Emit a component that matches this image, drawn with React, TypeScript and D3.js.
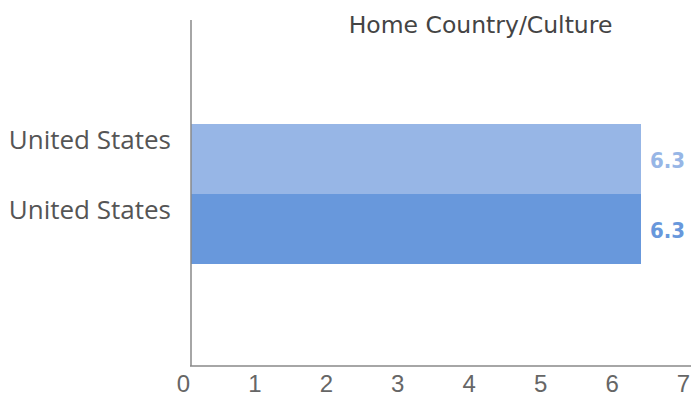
import React from "react";
import * as d3 from "d3";

const categories = ["United States", "United States"];
const values = [6.3, 6.3];
const barColors = ["#97b6e6", "#6898dc"];
const xTicks = [0, 1, 2, 3, 4, 5, 6, 7];
const title = "Home Country/Culture";

const W = 691;
const H = 396;

export default function App() {
  const x = d3.scaleLinear().domain([0, 7]).range([191, 691]);
  const y = d3
    .scaleBand<number>()
    .domain(categories.map((_, i) => i))
    .range([124, 264])
    .padding(0);

  return (
    <svg
      width={W}
      height={H}
      style={{ position: "absolute", left: 0, top: 0, background: "#fff" }}
    >
      <text
        x={480.5}
        y={33}
        textAnchor="middle"
        fontFamily="'DejaVu Sans', sans-serif"
        fontSize={23.5}
        fill="#444"
      >
        {title}
      </text>

      {values.map((v, i) => (
        <rect
          key={i}
          x={x(0)}
          y={y(i)!}
          width={x(v) - x(0)}
          height={y.bandwidth()}
          fill={barColors[i]}
        />
      ))}

      {values.map((v, i) => (
        <text
          key={i}
          x={x(v) + 9}
          y={y(i)! + y.bandwidth() / 2 + 8.5}
          fontFamily="'DejaVu Sans Condensed', 'DejaVu Sans', sans-serif"
          fontWeight="bold"
          fontSize={22}
          fill={barColors[i]}
        >
          {v.toFixed(1)}
        </text>
      ))}

      {categories.map((c, i) => (
        <text
          key={i}
          x={171}
          y={y(i)! + 25}
          textAnchor="end"
          fontFamily="'Open Sans', sans-serif"
          fontSize={26}
          fill="#555"
        >
          {c}
        </text>
      ))}

      <line x1={191} x2={191} y1={20} y2={366} stroke="#888" strokeWidth={1.5} />
      <line x1={190} x2={691} y1={366} y2={366} stroke="#888" strokeWidth={1.5} />

      {xTicks.map((t) => (
        <text
          key={t}
          x={x(t) - 7.5}
          y={392}
          textAnchor="middle"
          fontFamily="'Liberation Sans', Arial, sans-serif"
          fontSize={24}
          fill="#666"
        >
          {t}
        </text>
      ))}
    </svg>
  );
}
